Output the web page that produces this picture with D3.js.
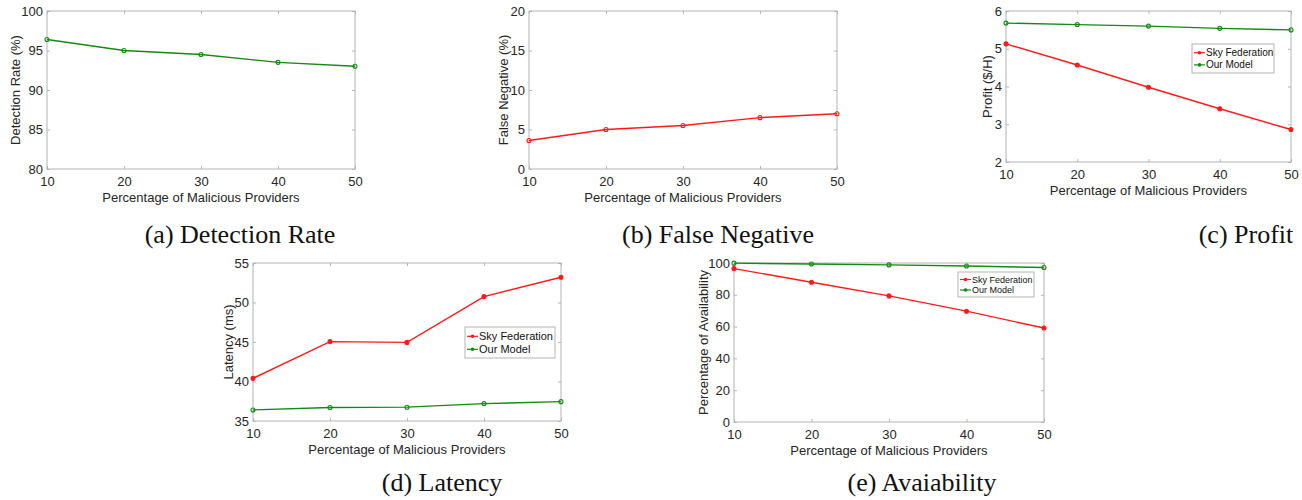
<!DOCTYPE html>
<html>
<head>
<meta charset="utf-8">
<script src="https://cdn.jsdelivr.net/npm/d3@7"></script>
<style>
  body { margin: 0; background: #fff; }
</style>
</head>
<body>
<div class="container"></div>
<script>
const providers = [10, 20, 30, 40, 50];
const seriesNames = ["Sky Federation", "Our Model"];

const detectionRate = [96.4, 95.0, 94.5, 93.5, 93.0];
const falseNegative = [3.6, 5.0, 5.5, 6.5, 7.0];
const profitSky = [5.13, 4.57, 3.98, 3.41, 2.86];
const profitOurs = [5.68, 5.64, 5.60, 5.54, 5.50];
const latencySky = [40.4, 45.05, 44.95, 50.75, 53.2];
const latencyOurs = [36.4, 36.7, 36.75, 37.2, 37.45];
const availSky = [96.5, 87.9, 79.3, 69.7, 59.1];
const availOurs = [99.9, 99.4, 98.8, 98.1, 97.2];

const ticksDetection = [80, 85, 90, 95, 100];
const ticksFalseNeg = [0, 5, 10, 15, 20];
const ticksProfit = [2, 3, 4, 5, 6];
const ticksLatency = [35, 40, 45, 50, 55];
const ticksAvail = [0, 20, 40, 60, 80, 100];

const red = "#ff1a1a", green = "#138a13";
const sans = "Liberation Sans, Arial, sans-serif";
const w = 1302, h = 500;

const svg = d3.select(".container").append("svg")
  .attr("width", w).attr("height", h)
  .attr("viewBox", [0, 0, w, h])
  .attr("font-family", sans);

function panel(p) {
  const x = d3.scaleLinear().domain([10, 50]).range([p.x0, p.x1]);
  const y = d3.scaleLinear().domain(d3.extent(p.ticks)).range([p.y1, p.y0]);
  const g = svg.append("g");

  // box + inward ticks (matlab style)
  g.append("rect")
    .attr("x", p.x0).attr("y", p.y0)
    .attr("width", p.x1 - p.x0).attr("height", p.y1 - p.y0)
    .attr("fill", "none").attr("stroke", "#b4b4b4").attr("stroke-width", 1);

  g.append("g").attr("transform", `translate(0,${p.y1})`)
    .call(d3.axisBottom(x).tickValues(providers).tickSize(-3).tickPadding(8));
  g.append("g").attr("transform", `translate(0,${p.y0})`)
    .call(d3.axisTop(x).tickValues(providers).tickSize(-3).tickFormat(""));
  g.append("g").attr("transform", `translate(${p.x0},0)`)
    .call(d3.axisLeft(y).tickValues(p.ticks).tickSize(-3).tickPadding(4).tickFormat(d3.format("d")));
  g.append("g").attr("transform", `translate(${p.x1},0)`)
    .call(d3.axisRight(y).tickValues(p.ticks).tickSize(-3).tickFormat(""));
  g.selectAll(".domain").remove();
  g.selectAll(".tick line").attr("stroke", "#b4b4b4");
  g.selectAll(".tick text").attr("fill", "#262626").attr("font-size", 13)
    .attr("font-family", sans);

  g.append("text")
    .attr("x", (p.x0 + p.x1) / 2).attr("y", p.y1 + 33)
    .attr("text-anchor", "middle").attr("font-size", 13).attr("fill", "#262626")
    .text("Percentage of Malicious Providers");

  g.append("text")
    .attr("transform", `translate(${p.x0 - p.yl},${(p.y0 + p.y1) / 2}) rotate(-90)`)
    .attr("text-anchor", "middle").attr("dy", "0.35em")
    .attr("font-size", 13).attr("fill", "#262626")
    .text(p.ylabel);

  const line = d3.line().x((d, i) => x(providers[i])).y(d => y(d));
  p.series.forEach(s => {
    g.append("path").datum(s.values)
      .attr("fill", "none").attr("stroke", s.color).attr("stroke-width", 1.4)
      .attr("d", line);
    g.selectAll(null).data(s.values).join("circle")
      .attr("cx", (d, i) => x(providers[i])).attr("cy", d => y(d))
      .attr("r", 2)
      .attr("fill", s.filled ? s.color : "none")
      .attr("stroke", s.color).attr("stroke-width", 1.1);
  });

  if (p.legend) {
    const L = p.legend;
    g.append("rect")
      .attr("x", L.x).attr("y", L.y).attr("width", L.w).attr("height", L.h)
      .attr("fill", "#fff").attr("stroke", "#b4b4b4");
    p.series.forEach((s, i) => {
      const cy = L.y + L.h * (i === 0 ? 0.3 : 0.72);
      g.append("line")
        .attr("x1", L.x + 2).attr("x2", L.x + 13).attr("y1", cy).attr("y2", cy)
        .attr("stroke", s.color).attr("stroke-width", 1.2);
      g.append("circle").attr("cx", L.x + 7.5).attr("cy", cy).attr("r", 1.8)
        .attr("fill", s.color);
      g.append("text").attr("x", L.x + 14).attr("y", cy).attr("dy", "0.35em")
        .attr("font-size", L.fs).attr("fill", "#111").text(seriesNames[i]);
    });
  }

  svg.append("text")
    .attr("x", p.cx).attr("y", p.cy)
    .attr("text-anchor", "middle")
    .attr("font-family", "Liberation Serif, 'Times New Roman', serif")
    .attr("font-size", 26).attr("fill", "#111")
    .text(p.caption);
}

panel({
  x0: 47, x1: 355, y0: 11, y1: 169, ticks: ticksDetection, yl: 32,
  ylabel: "Detection Rate (%)",
  series: [{ values: detectionRate, color: green, filled: false }],
  caption: "(a) Detection Rate", cx: 240, cy: 243
});
panel({
  x0: 529, x1: 837, y0: 11, y1: 169, ticks: ticksFalseNeg, yl: 26,
  ylabel: "False Negative (%)",
  series: [{ values: falseNegative, color: red, filled: false }],
  caption: "(b) False Negative", cx: 718, cy: 243
});
panel({
  x0: 1006, x1: 1291, y0: 11, y1: 162, ticks: ticksProfit, yl: 19,
  ylabel: "Profit ($/H)",
  series: [
    { values: profitSky, color: red, filled: true },
    { values: profitOurs, color: green, filled: false }
  ],
  legend: { x: 1192, y: 44, w: 82, h: 29, fs: 10 },
  caption: "(c) Profit", cx: 1246, cy: 243
});
panel({
  x0: 253, x1: 561, y0: 263, y1: 421, ticks: ticksLatency, yl: 25,
  ylabel: "Latency (ms)",
  series: [
    { values: latencySky, color: red, filled: true },
    { values: latencyOurs, color: green, filled: false }
  ],
  legend: { x: 465, y: 327, w: 90, h: 31, fs: 11 },
  caption: "(d) Latency", cx: 442, cy: 491
});
panel({
  x0: 734, x1: 1044, y0: 263, y1: 422, ticks: ticksAvail, yl: 31,
  ylabel: "Percentage of Availability",
  series: [
    { values: availSky, color: red, filled: true },
    { values: availOurs, color: green, filled: false }
  ],
  legend: { x: 958, y: 272, w: 76, h: 25, fs: 9 },
  caption: "(e) Avaiability", cx: 922, cy: 491
});
</script>
</body>
</html>
